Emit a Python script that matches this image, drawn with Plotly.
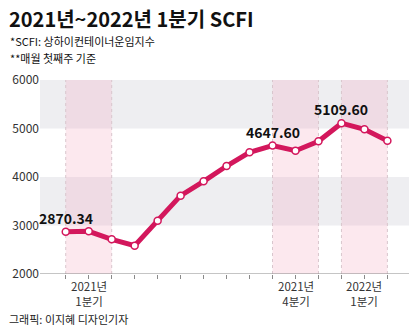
import plotly.graph_objects as go

# Monthly SCFI (first week of each month), Jan 2021 – Mar 2022
months = ["2021-01", "2021-02", "2021-03", "2021-04", "2021-05", "2021-06",
          "2021-07", "2021-08", "2021-09", "2021-10", "2021-11", "2021-12",
          "2022-01", "2022-02", "2022-03"]
scfi = [2870.34, 2880, 2715, 2585, 3100, 3615, 3910, 4227, 4509,
        4647.60, 4542, 4736, 5109.60, 4983, 4748]

# Highlighted quarters: (first month index, last month index, year, quarter)
quarters = [(0, 2, "2021년", "1분기"), (9, 11, "2021년", "4분기"), (12, 14, "2022년", "1분기")]
labelled = [0, 9, 12]
y_ticks = [2000, 3000, 4000, 5000, 6000]

W, H = 420, 327
L, R, T, B = 40, 11, 80, 53
PW, PH = W - L - R, H - T - B

def px(x):
    return (x - L) / PW

def py(y):
    return (H - B - y) / PH

LINE = "#d3175c"
FONT = "Noto Sans CJK KR"
x_idx = list(range(len(months)))

fig = go.Figure()
fig.add_trace(go.Scatter(
    x=x_idx, y=scfi, mode="lines+markers",
    line=dict(color=LINE, width=5),
    marker=dict(size=7, color="white", line=dict(color=LINE, width=1.5)),
    hoverinfo="skip", showlegend=False,
))

shapes = []
# alternating horizontal bands
for lo, hi in [(3000, 4000), (5000, 6000)]:
    shapes.append(dict(type="rect", xref="paper", yref="y", x0=0, x1=1, y0=lo, y1=hi,
                       fillcolor="#eeeef1", line=dict(width=0), layer="below"))
# quarter highlight columns
for a, b, _, _ in quarters:
    shapes.append(dict(type="rect", xref="x", yref="y", x0=a, x1=b, y0=2000, y1=6000,
                       fillcolor="rgba(245,170,192,0.27)", line=dict(width=0), layer="below"))
    for xv in (a, b):
        shapes.append(dict(type="line", xref="x", yref="y", x0=xv, x1=xv, y0=2000, y1=6000,
                           line=dict(color="#d9c6cd", width=1, dash="dot"), layer="below"))
# baseline
shapes.append(dict(type="line", xref="paper", yref="y", x0=0, x1=1, y0=2000, y1=2000,
                   line=dict(color="#8a8a8a", width=1)))

annotations = []
for i in labelled:
    annotations.append(dict(x=i, y=scfi[i], xref="x", yref="y", text=f"<b>{scfi[i]:.2f}</b>",
                            showarrow=False, yshift=14,
                            font=dict(family=FONT, size=14, color="#111"),
                            xanchor="center", yanchor="middle"))

# quarter labels under the axis
for a, b, yr, q in quarters:
    annotations.append(dict(x=(a + b) / 2, y=py(277), xref="x", yref="paper",
                            text=f"{yr}<br>{q}", showarrow=False, borderpad=0,
                            xanchor="center", yanchor="top", align="center",
                            font=dict(family=FONT, size=11.5, color="#333")))

annotations += [
    dict(x=px(7), y=py(18), xref="paper", yref="paper", text="<b>2021년~2022년 1분기 SCFI</b>",
         showarrow=False, xanchor="left", yanchor="middle",
         font=dict(family=FONT, size=20, color="#111")),
    dict(x=px(8), y=py(41), xref="paper", yref="paper", text="*SCFI: 상하이컨테이너운임지수",
         showarrow=False, xanchor="left", yanchor="middle",
         font=dict(family=FONT, size=11, color="#111")),
    dict(x=px(8), y=py(58), xref="paper", yref="paper", text="**매월 첫째주 기준",
         showarrow=False, xanchor="left", yanchor="middle",
         font=dict(family=FONT, size=11, color="#111")),
    dict(x=px(8), y=py(319), xref="paper", yref="paper", text="그래픽: 이지혜 디자인기자",
         showarrow=False, xanchor="left", yanchor="middle", borderpad=0,
         font=dict(family=FONT, size=11, color="#222")),
]

fig.update_layout(
    width=W, height=H, margin=dict(l=L, r=R, t=T, b=B),
    paper_bgcolor="white", plot_bgcolor="white",
    shapes=shapes, annotations=annotations,
    font=dict(family=FONT, size=12, color="#333"),
    xaxis=dict(range=[-1.12, 14.94], tickvals=x_idx, ticktext=[""] * len(x_idx),
               ticks="outside", ticklen=4, tickcolor="#8a8a8a", tickwidth=1,
               showgrid=False, zeroline=False, showline=False, fixedrange=True),
    yaxis=dict(range=[2000, 6000], tickvals=y_ticks, ticks="", showgrid=False,
               zeroline=False, showline=False, fixedrange=True,
               tickfont=dict(family=FONT, size=12, color="#333")),
)

fig.write_html("out.html", config={"displayModeBar": False})
